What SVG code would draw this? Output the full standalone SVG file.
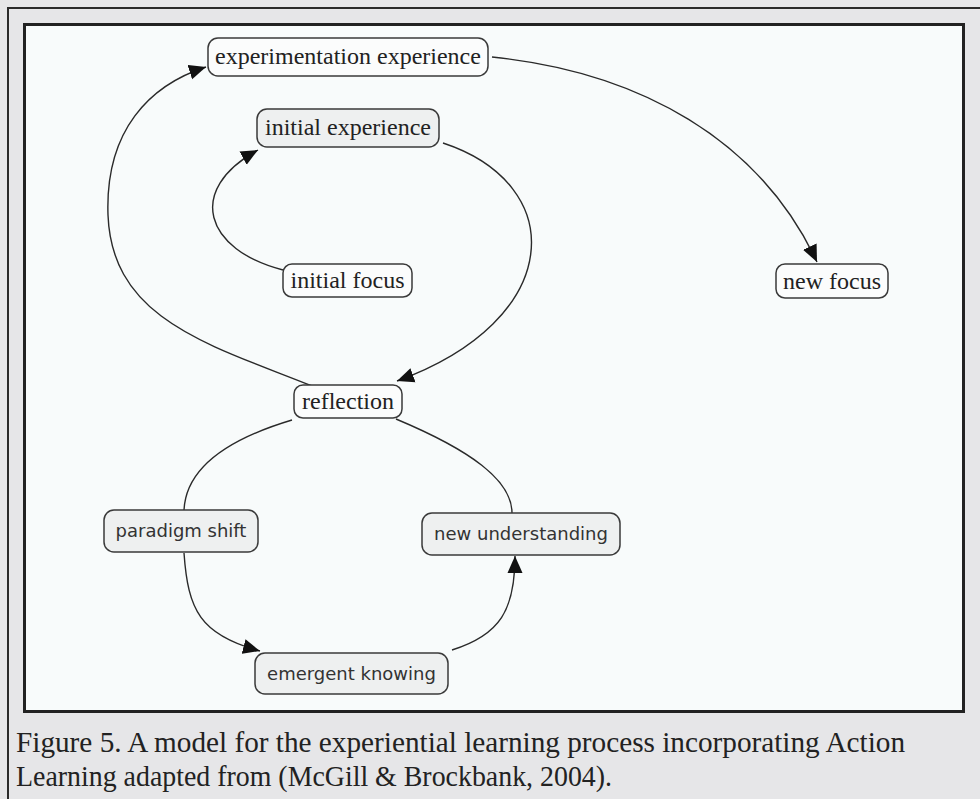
<svg xmlns="http://www.w3.org/2000/svg" width="980" height="799" viewBox="0 0 980 799">
<defs>
<style>
.node rect{stroke:#3a3a3a;stroke-width:1.5}
.w rect{fill:#fbfcfc}
.g rect{fill:#eef0f0}
.serif{font-family:"Liberation Serif","Times New Roman",serif;font-size:24px;fill:#222;text-anchor:middle}
.sans{font-family:"DejaVu Sans",Verdana,sans-serif;font-size:18px;fill:#333;text-anchor:middle}
.conn path{fill:none;stroke:#2a2a2a;stroke-width:1.4}
.cap{font-family:"Liberation Serif","Times New Roman",serif;font-size:30px;fill:#222}
</style>
<marker id="arr" markerUnits="userSpaceOnUse" markerWidth="18" markerHeight="16" refX="17" refY="7.5" orient="auto" viewBox="0 0 18 15">
<path d="M0,0 L17,7.5 L0,15 z" fill="#111"/>
</marker>
</defs>
<rect x="0" y="0" width="980" height="799" fill="#e6e6e8"/>
<rect x="8" y="8" width="990" height="810" fill="none" stroke="#2a2a2a" stroke-width="2"/>
<rect x="24.5" y="24.5" width="939" height="687" fill="#f8fbfb" stroke="#222" stroke-width="3"/>
<g id="connectors" class="conn">
<path d="M 312 386 C 210 345, 112 320, 108 215 C 105 130, 150 85, 206 67" marker-end="url(#arr)"/>
<path d="M 492 57 C 640 72, 760 140, 817 262" marker-end="url(#arr)"/>
<path d="M 283 270 C 205 250, 185 190, 258 150" marker-end="url(#arr)"/>
<path d="M 443 143 C 570 185, 565 320, 397 381" marker-end="url(#arr)"/>
<path d="M 292 420 C 225 440, 186 470, 184 510"/>
<path d="M 396 419 C 470 450, 512 480, 512 513"/>
<path d="M 184 553 C 188 610, 200 635, 260 651" marker-end="url(#arr)"/>
<path d="M 452 650 C 500 635, 515 610, 515 556" marker-end="url(#arr)"/>
</g>
<g id="experimentation-experience" class="node w"><rect x="208" y="38" width="280" height="38" rx="10"/><text class="serif" x="348" y="64">experimentation experience</text></g>
<g id="initial-experience" class="node g"><rect x="257" y="109" width="182" height="38" rx="10"/><text class="serif" x="348" y="135">initial experience</text></g>
<g id="initial-focus" class="node w"><rect x="283" y="264" width="129" height="33" rx="9"/><text class="serif" x="347.5" y="288">initial focus</text></g>
<g id="new-focus" class="node w"><rect x="776" y="264" width="112" height="34" rx="9"/><text class="serif" x="832" y="289">new focus</text></g>
<g id="reflection" class="node w"><rect x="294" y="385" width="108" height="33" rx="9"/><text class="serif" x="348" y="409">reflection</text></g>
<g id="paradigm-shift" class="node g"><rect x="104" y="510" width="154" height="42" rx="10"/><text class="sans" x="181" y="537">paradigm shift</text></g>
<g id="new-understanding" class="node g"><rect x="422" y="513" width="198" height="42" rx="10"/><text class="sans" x="521" y="540">new understanding</text></g>
<g id="emergent-knowing" class="node g"><rect x="255" y="653" width="193" height="41" rx="10"/><text class="sans" x="351.5" y="680">emergent knowing</text></g>
<text class="cap" x="16" y="752" textLength="889" lengthAdjust="spacingAndGlyphs">Figure 5. A model for the experiential learning process incorporating Action</text>
<text class="cap" x="16" y="786" textLength="596" lengthAdjust="spacingAndGlyphs">Learning adapted  from (McGill &amp; Brockbank, 2004).</text>
</svg>
